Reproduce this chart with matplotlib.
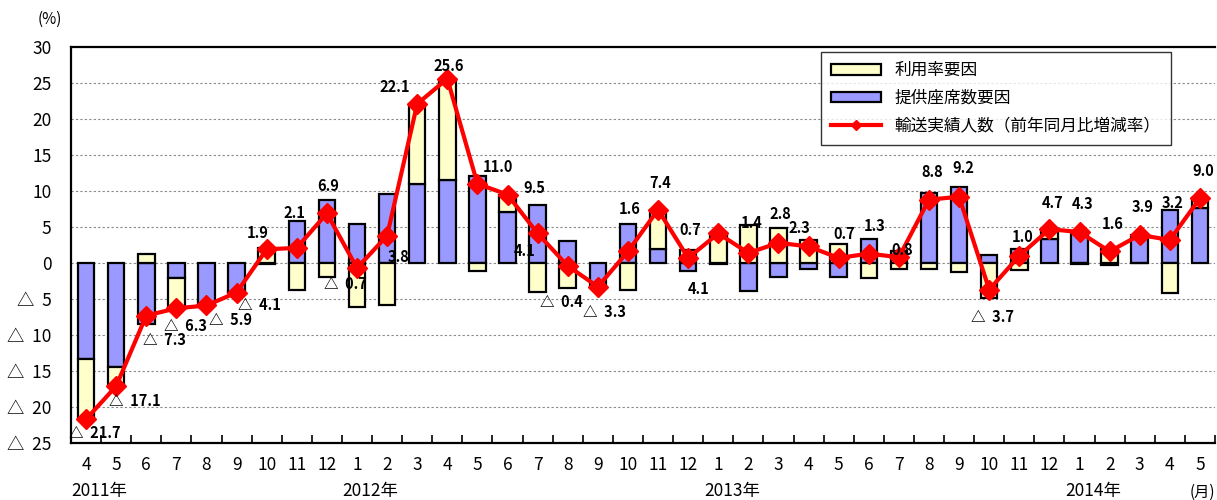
import numpy as np
import matplotlib
matplotlib.use("Agg")
import matplotlib.pyplot as plt
from matplotlib.patches import Patch
from matplotlib.lines import Line2D

plt.rcParams['font.family'] = ['Noto Sans CJK JP', 'DejaVu Sans']

# データ (2011年4月 ～ 2014年5月)
months = [4, 5, 6, 7, 8, 9, 10, 11, 12,
          1, 2, 3, 4, 5, 6, 7, 8, 9, 10, 11, 12,
          1, 2, 3, 4, 5, 6, 7, 8, 9, 10, 11, 12,
          1, 2, 3, 4, 5]
years = ['2011年', '2012年', '2013年', '2014年']
year_pos = [0, 9, 21, 33]

# 提供座席数要因
seat_factor = [-13.4, -14.4, -8.5, -2.1, -5.8, -4.0, -0.2, 5.8, 8.8,
               5.4, 9.6, 11.0, 11.5, 12.1, 7.1, 8.1, 3.1, -3.3, 5.4, 1.9, -1.1,
               -0.1, -3.9, -2.0, -0.9, -1.9, 3.4, 1.6, 9.7, 10.5, 1.1, 2.0, 3.3,
               4.5, -0.3, 3.9, 7.3, 7.7]
# 利用率要因
util_factor = [-8.3, -2.7, 1.3, -4.2, -0.1, -0.1, 2.1, -3.7, -1.9,
               -6.1, -5.8, 11.1, 14.1, -1.1, 2.4, -4.0, -3.5, -0.1, -3.8, 5.5, 1.8,
               4.2, 5.3, 4.8, 3.2, 2.6, -2.1, -0.8, -0.9, -1.3, -4.8, -1.0, 1.4,
               -0.2, 1.9, 0.0, -4.1, 1.3]
# 輸送実績人数（前年同月比増減率）
passengers = [-21.7, -17.1, -7.3, -6.3, -5.9, -4.1, 1.9, 2.1, 6.9,
              -0.7, 3.8, 22.1, 25.6, 11.0, 9.5, 4.1, -0.4, -3.3, 1.6, 7.4, 0.7,
              4.1, 1.4, 2.8, 2.3, 0.7, 1.3, 0.8, 8.8, 9.2, -3.7, 1.0, 4.7,
              4.3, 1.6, 3.9, 3.2, 9.0]

# ラベル位置のずらし (ピクセル)
label_dx = [9, 19, 18, 9, 24, 23, -9, -2, 1, -12, 11, -22, 1, 21, 27, -13, -6, 7, 2, 2, 2,
            -20, 3, 2, -9, 6, 6, 3, 3, 4, 3, 3, 3, 3, 3, 3, 3, 3]
label_dy = [-14, -15, -24, -18, -15, -12, 16, 35, 27, -16, -21, 17, 13, 17, 7, -18, -36, -25, 42, 27, 28,
            -56, 30, 29, 18, 24, 28, 7, 28, 29, -27, 19, 26, 28, 27, 28, 37, 27]

x = np.arange(len(months))
seat = np.array(seat_factor)
util = np.array(util_factor)
util_bottom = np.where(np.sign(util) == np.sign(seat), seat, 0)

fig = plt.figure(figsize=(12.17, 5.0), dpi=100)
ax = fig.add_axes([71 / 1217, 1 - 443 / 500, 1144 / 1217, 396 / 500])

ax.bar(x, seat, width=0.55, color='#9999FF', edgecolor='black', linewidth=1.6, zorder=2)
ax.bar(x, util, width=0.55, bottom=util_bottom, color='#FFFFCC', edgecolor='black',
       linewidth=1.6, zorder=2)
ax.plot(x, passengers, color='#FF0000', linewidth=3, marker='D', markersize=10, zorder=3)

for i, v in enumerate(passengers):
    txt = f'{v:.1f}' if v >= 0 else f'△  {abs(v):.1f}'
    ax.annotate(txt, (x[i], v), xytext=(label_dx[i], label_dy[i]), textcoords='offset pixels',
                ha='center', va='center', fontsize=10.5, fontweight='bold', zorder=4)

ax.set_xlim(-0.5, len(months) - 0.5)
ax.set_ylim(-25, 30)
yt = np.arange(-25, 31, 5)
ax.set_yticks(yt)
ax.set_yticklabels([str(t) if t >= 0 else f'△  {abs(t)}' for t in yt], fontsize=12.5)
ax.tick_params(axis='y', length=0, pad=14)

ax.set_xticks(x)
ax.set_xticklabels([str(m) for m in months], fontsize=12.5)
ax.set_xticks(np.arange(-0.5, len(months), 1), minor=True)
ax.tick_params(axis='x', which='major', length=0, pad=9)
ax.tick_params(axis='x', which='minor', direction='in', length=6, width=1.2)

for yv in range(-20, 30, 5):
    ax.axhline(yv, color='#888888', linestyle=(0, (2, 2)), linewidth=0.8, zorder=1)

for s in ax.spines.values():
    s.set_linewidth(1.6)
ax.spines['right'].set_visible(False)

for yr, p in zip(years, year_pos):
    ax.text(p + 0.45, -0.12, yr, transform=ax.get_xaxis_transform(), ha='center', va='center',
            fontsize=12.5)
ax.text(37.5, -0.125, '(月)', transform=ax.get_xaxis_transform(), ha='right', va='center',
        fontsize=11)
ax.text(-1.2, 1.07, '(%)', transform=ax.get_xaxis_transform(), ha='center', va='center',
        fontsize=11)

handles = [Patch(facecolor='#FFFFCC', edgecolor='black', linewidth=1.6),
           Patch(facecolor='#9999FF', edgecolor='black', linewidth=1.6),
           Line2D([0], [0], color='#FF0000', linewidth=3, marker='D', markersize=5)]
labels = ['利用率要因', '提供座席数要因', '輸送実績人数（前年同月比増減率）']
leg = ax.legend(handles, labels, loc='upper left', bbox_to_anchor=(0.656, 0.987), fontsize=12,
                frameon=True, fancybox=False, edgecolor='black', handlelength=3.0,
                handleheight=0.6, labelspacing=0.65, borderpad=0.6, borderaxespad=0)
leg.get_frame().set_linewidth(1.0)
leg.set_zorder(5)

fig.savefig('out.png', dpi=100)
